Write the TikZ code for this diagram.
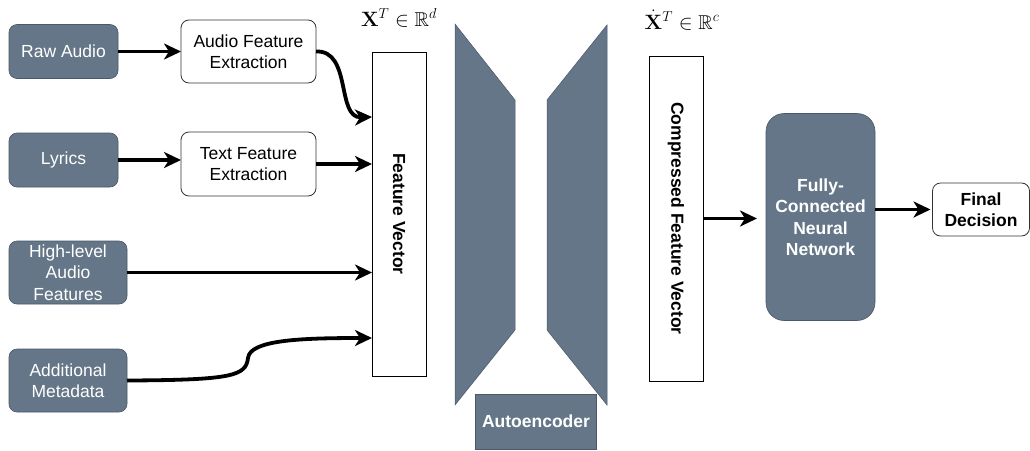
\documentclass[tikz,border=0pt]{standalone}
\usepackage{amsmath,amssymb}
\usepackage[no-math]{fontspec}
\setmainfont{Liberation Sans}
\usetikzlibrary{arrows.meta,calc}

\definecolor{slatefill}{HTML}{647687}
\definecolor{slateline}{HTML}{4A5868}
\definecolor{boxline}{HTML}{333333}

\tikzset{
  every node/.style={font=\fontsize{17.5}{21.5}\selectfont, inner sep=0pt, outer sep=0pt},
  slatebox/.style={draw=slateline, line width=0.6pt, fill=slatefill, text=white,
                   rounded corners=8pt, align=center},
  plainbox/.style={draw=boxline, line width=0.8pt, fill=white, rounded corners=8pt, align=center},
  vecbox/.style={draw=black, line width=0.9pt, fill=white},
  flow/.style={line width=3.8pt, -{Stealth[length=17pt,width=16pt,inset=5pt]}},
  wing/.style={fill=slatefill, draw=slateline, line width=0.5pt}
}

\begin{document}
\begin{tikzpicture}[x=1pt,y=-1pt]
\useasboundingbox (0,0) rectangle (1030,450);

% input sources
\node[slatebox, minimum width=109pt, minimum height=54pt] (raw) at (63.5,51.5) {Raw Audio};
\node[slatebox, minimum width=109pt, minimum height=54pt] (lyr) at (63.5,160) {Lyrics};
\node[slatebox, minimum width=118pt, minimum height=63pt] (hlaf) at (68,272.5) {High-level\\Audio\\Features};
\node[slatebox, minimum width=118pt, minimum height=63pt] (meta) at (68,380.5) {Additional\\Metadata};

% feature extraction steps
\node[plainbox, minimum width=135pt, minimum height=63pt] (afe) at (248.5,51.5) {Audio Feature\\Extraction};
\node[plainbox, minimum width=135pt, minimum height=64pt] (tfe) at (248.5,164) {Text Feature\\Extraction};

% concatenated feature vector
\node[vecbox, minimum width=54pt, minimum height=324pt] (fv) at (399,214) {};
\node[rotate=-90, font=\fontsize{17.5}{21.5}\selectfont\bfseries] (fvlab) at (fv.center) {Feature Vector};
\node (xd) at (399,18) {\fontsize{20}{24}\selectfont$\mathbf{X}^{T}\in\mathbb{R}^{d}$};

% autoencoder wings
\coordinate (ea) at (455,24);
\coordinate (eb) at (515,100);
\coordinate (ec) at (515,330);
\coordinate (ed) at (455,405);
\draw[wing] (ea) -- (eb) -- (ec) -- (ed) -- cycle;
\coordinate (da) at (607,25);
\coordinate (db) at (547,100);
\coordinate (dc) at (547,330);
\coordinate (dd) at (607,405);
\draw[wing] (da) -- (db) -- (dc) -- (dd) -- cycle;
\node[fill=slatefill, draw=slateline, line width=0.5pt, text=white, font=\fontsize{17.5}{21.5}\selectfont\bfseries,
      minimum width=121pt, minimum height=55pt] (ae) at (536,421.5) {Autoencoder};

% compressed feature vector
\node[vecbox, minimum width=54pt, minimum height=325pt] (cfv) at (676,218.5) {};
\node[rotate=-90, font=\fontsize{17.5}{21.5}\selectfont\bfseries] (cfvlab) at (cfv.center) {Compressed Feature Vector};
\node (xc) at (682,20) {\fontsize{20}{24}\selectfont$\dot{\mathbf{X}}^{T}\in\mathbb{R}^{c}$};

% classifier and output
\node[slatebox, rounded corners=18pt, font=\fontsize{17.5}{21.5}\selectfont\bfseries,
      minimum width=109pt, minimum height=207pt] (fcnn) at (820.5,217) {Fully-\\Connected\\Neural\\Network};
\node[plainbox, font=\fontsize{17.5}{21.5}\selectfont\bfseries,
      minimum width=97pt, minimum height=53pt] (fin) at (981,209.5) {Final\\Decision};

% connectors
\draw[flow] (raw.east) -- (afe.west);
\draw[flow] (lyr.east) -- (lyr.east -| tfe.west);
\draw[flow] (afe.east) .. controls (352,50) and (336,118) .. ([yshift=97pt]fv.west);
\draw[flow] (tfe.east) -- (tfe.east -| fv.west);
\draw[flow] (hlaf.east) -- (hlaf.east -| fv.west);
\coordinate (mbend) at (248,358);
\draw[flow] (meta.east) .. controls (232,380) and (246,376) .. (mbend)
            .. controls (250,340) and (300,338) .. ([yshift=-124pt]fv.west);
\draw[flow, shorten >=9pt] (cfv.east) -- (cfv.east -| fcnn.west);
\draw[flow, shorten >=2pt] (fcnn.east |- fin.west) -- (fin.west);
\end{tikzpicture}
\end{document}
